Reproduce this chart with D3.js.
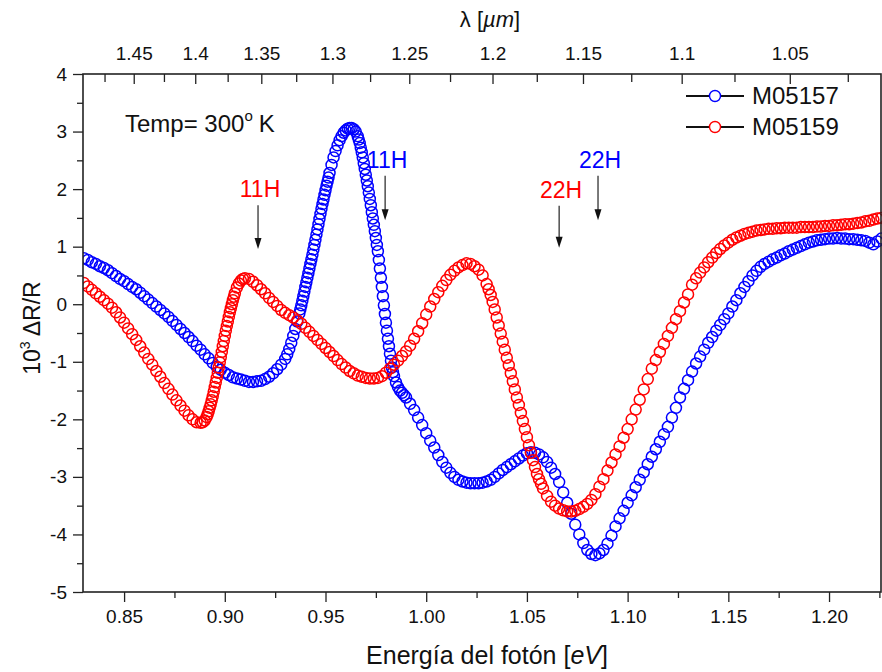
<!DOCTYPE html>
<html><head><meta charset="utf-8">
<script src="https://cdn.jsdelivr.net/npm/d3@7"></script>
<style>body{margin:0;background:#fff} svg{display:block;font-family:"Liberation Sans",Arial,sans-serif}</style>
</head><body><svg id="c" width="882" height="672"></svg>
<script>
// ---------- data ----------
const energyDomain = [0.8296, 1.2258];
const yDomain = [4, -5];
const xTicks = [0.85, 0.90, 0.95, 1.00, 1.05, 1.10, 1.15, 1.20];
const xMinorTicks = [0.875, 0.925, 0.975, 1.025, 1.075, 1.125, 1.175, 1.225];
const yTicks = [4, 3, 2, 1, 0, -1, -2, -3, -4, -5];
const yMinorTicks = [3.5, 2.5, 1.5, 0.5, -0.5, -1.5, -2.5, -3.5, -4.5];
const lambdaTicks = [1.475, 1.45, 1.425, 1.4, 1.375, 1.35, 1.325, 1.3, 1.275, 1.25, 1.225, 1.2, 1.175, 1.15, 1.125, 1.1, 1.075, 1.05, 1.025];
const lambdaLabels = [1.45, 1.4, 1.35, 1.3, 1.25, 1.2, 1.15, 1.1, 1.05];
const hc = 1.2398; // eV·µm
const seriesNames = ["M05157", "M05159"];
const seriesColors = ["#0000ff", "#ff0000"];

// M05157 (blue): [energy eV, 10^3 dR/R]
const m05157 = [
[0.830,0.80],[0.832,0.77],[0.834,0.73],[0.836,0.70],[0.838,0.66],[0.840,0.63],[0.842,0.59],[0.844,0.54],[0.846,0.49],[0.848,0.44],
[0.850,0.40],[0.852,0.35],[0.854,0.30],[0.856,0.26],[0.858,0.20],[0.860,0.14],[0.862,0.08],[0.864,0.02],[0.866,-0.04],[0.868,-0.10],
[0.870,-0.16],[0.872,-0.22],[0.874,-0.29],[0.876,-0.36],[0.878,-0.43],[0.880,-0.50],[0.882,-0.57],[0.884,-0.64],[0.886,-0.72],[0.888,-0.79],
[0.890,-0.87],[0.892,-0.94],[0.894,-1.02],[0.896,-1.09],[0.898,-1.14],[0.900,-1.19],[0.902,-1.23],[0.904,-1.27],[0.906,-1.29],[0.908,-1.31],
[0.910,-1.33],[0.912,-1.35],[0.914,-1.35],[0.916,-1.34],[0.918,-1.33],[0.920,-1.30],[0.922,-1.26],[0.924,-1.20],[0.926,-1.13],[0.928,-1.05],
[0.930,-0.95],[0.931,-0.87],[0.932,-0.78],[0.933,-0.67],[0.934,-0.55],[0.935,-0.43],[0.936,-0.30],[0.937,-0.16],[0.938,-0.02],[0.939,0.14],
[0.940,0.30],[0.941,0.46],[0.942,0.62],[0.943,0.78],[0.944,0.95],[0.945,1.12],[0.946,1.30],[0.947,1.48],[0.948,1.66],[0.949,1.82],
[0.950,1.98],[0.951,2.13],[0.952,2.28],[0.953,2.42],[0.954,2.55],[0.955,2.66],[0.956,2.76],[0.957,2.85],[0.958,2.92],[0.959,2.98],
[0.960,3.02],[0.961,3.05],[0.962,3.06],[0.963,3.06],[0.964,3.04],[0.965,3.00],[0.966,2.92],[0.967,2.80],[0.968,2.64],[0.969,2.45],
[0.970,2.25],[0.971,2.05],[0.972,1.83],[0.973,1.60],[0.974,1.38],[0.975,1.15],[0.976,0.92],[0.977,0.62],[0.978,0.30],[0.979,-0.02],
[0.980,-0.32],[0.981,-0.60],[0.982,-0.86],[0.983,-1.10],[0.984,-1.25],[0.985,-1.36],[0.986,-1.44],[0.987,-1.50],[0.988,-1.54],[0.989,-1.58],
[0.990,-1.62],[0.992,-1.73],[0.994,-1.84],[0.996,-1.97],[0.998,-2.10],[1.000,-2.24],[1.002,-2.37],[1.004,-2.49],[1.006,-2.62],[1.008,-2.74],
[1.010,-2.84],[1.012,-2.93],[1.014,-3.00],[1.016,-3.05],[1.018,-3.08],[1.020,-3.10],[1.022,-3.11],[1.024,-3.11],[1.026,-3.11],[1.028,-3.10],
[1.030,-3.08],[1.032,-3.05],[1.034,-3.00],[1.036,-2.94],[1.038,-2.88],[1.040,-2.83],[1.042,-2.78],[1.044,-2.73],[1.046,-2.68],[1.048,-2.63],
[1.050,-2.59],[1.052,-2.57],[1.054,-2.58],[1.056,-2.61],[1.058,-2.66],[1.060,-2.74],[1.062,-2.84],[1.064,-2.95],[1.066,-3.09],
[1.068,-3.27],[1.070,-3.45],[1.072,-3.64],[1.074,-3.83],[1.076,-4.00],[1.078,-4.15],[1.080,-4.27],[1.082,-4.34],[1.084,-4.36],[1.086,-4.33],
[1.088,-4.27],[1.090,-4.16],[1.092,-4.02],[1.094,-3.86],[1.096,-3.72],[1.098,-3.59],[1.100,-3.45],[1.102,-3.32],[1.104,-3.18],[1.106,-3.05],
[1.108,-2.92],[1.110,-2.78],[1.112,-2.65],[1.114,-2.52],[1.116,-2.39],[1.118,-2.26],[1.120,-2.13],[1.122,-1.97],[1.124,-1.80],[1.126,-1.62],
[1.128,-1.47],[1.130,-1.32],[1.132,-1.17],[1.134,-1.03],[1.136,-0.91],[1.138,-0.79],[1.140,-0.67],[1.142,-0.57],[1.144,-0.46],[1.146,-0.36],
[1.148,-0.26],[1.150,-0.16],[1.152,-0.04],[1.154,0.07],[1.156,0.19],[1.158,0.30],[1.160,0.40],[1.162,0.50],[1.164,0.58],[1.166,0.65],
[1.168,0.70],[1.170,0.74],[1.172,0.78],[1.174,0.81],[1.176,0.85],[1.178,0.88],[1.180,0.92],[1.182,0.95],[1.184,0.98],[1.186,1.01],
[1.188,1.04],[1.190,1.07],[1.192,1.09],[1.194,1.11],[1.196,1.12],[1.198,1.13],[1.200,1.14],[1.202,1.14],[1.204,1.15],[1.206,1.14],
[1.208,1.14],[1.210,1.13],[1.212,1.13],[1.214,1.12],[1.216,1.11],[1.218,1.10],[1.220,1.07],[1.222,1.04],[1.224,1.09],[1.226,1.14]
];
// extra readings on the steep flanks of M05157
const m05157Steep = [
[0.9375,-0.09],[0.9385,0.06],[0.9395,0.22],[0.9405,0.38],[0.9415,0.54],[0.9425,0.70],[0.9435,0.86],[0.9445,1.03],[0.9455,1.21],[0.9465,1.39],
[0.9475,1.57],[0.9485,1.74],[0.9495,1.90],[0.9505,2.06],[0.9515,2.20],
[0.9665,2.86],[0.9675,2.72],[0.9685,2.55],[0.9695,2.35],[0.9705,2.15],[0.9715,1.94],[0.9725,1.72],[0.9735,1.49],[0.9745,1.27],[0.9755,1.03],
[0.9765,0.77],[0.9775,0.46],[0.9785,0.14],[0.9795,-0.17],[0.9805,-0.46],[0.9815,-0.73],[0.9825,-0.98],[0.9835,-1.18]
];

// M05159 (red)
const m05159 = [
[0.830,0.37],[0.832,0.31],[0.834,0.25],[0.836,0.19],[0.838,0.13],[0.840,0.07],[0.842,0.01],[0.844,-0.06],[0.846,-0.14],[0.848,-0.23],
[0.850,-0.32],[0.852,-0.42],[0.854,-0.52],[0.856,-0.62],[0.858,-0.73],[0.860,-0.84],[0.862,-0.95],[0.864,-1.05],[0.866,-1.16],[0.868,-1.26],
[0.870,-1.37],[0.872,-1.47],[0.874,-1.57],[0.876,-1.67],[0.878,-1.76],[0.880,-1.85],[0.882,-1.93],[0.884,-2.00],[0.886,-2.05],[0.888,-2.06],
[0.889,-2.05],[0.890,-2.02],[0.891,-1.96],[0.892,-1.86],[0.893,-1.74],[0.894,-1.60],[0.895,-1.44],[0.896,-1.28],[0.897,-1.10],[0.898,-0.92],
[0.899,-0.73],[0.900,-0.55],[0.901,-0.38],[0.902,-0.22],[0.903,-0.07],[0.904,0.07],[0.905,0.19],[0.906,0.29],[0.907,0.36],[0.908,0.41],
[0.909,0.44],[0.910,0.45],[0.912,0.44],[0.914,0.39],[0.916,0.33],[0.918,0.26],[0.920,0.19],[0.922,0.11],[0.924,0.04],[0.926,-0.03],
[0.928,-0.10],[0.930,-0.15],[0.932,-0.19],[0.934,-0.23],[0.936,-0.28],[0.938,-0.34],[0.940,-0.41],[0.942,-0.48],[0.944,-0.55],[0.946,-0.62],
[0.948,-0.69],[0.950,-0.76],[0.952,-0.83],[0.954,-0.90],[0.956,-0.97],[0.958,-1.04],[0.960,-1.10],[0.962,-1.16],[0.964,-1.20],[0.966,-1.24],
[0.968,-1.26],[0.970,-1.28],[0.972,-1.29],[0.974,-1.29],[0.976,-1.28],[0.978,-1.25],[0.980,-1.19],[0.982,-1.12],[0.984,-1.05],[0.986,-0.98],
[0.988,-0.90],[0.990,-0.82],[0.992,-0.72],[0.994,-0.60],[0.996,-0.47],[0.998,-0.33],[1.000,-0.18],[1.002,-0.04],[1.004,0.09],[1.006,0.21],
[1.008,0.32],[1.010,0.42],[1.012,0.51],[1.014,0.58],[1.016,0.64],[1.018,0.68],[1.020,0.71],[1.022,0.70],[1.024,0.66],[1.026,0.60],
[1.028,0.50],[1.030,0.35],[1.031,0.26],[1.032,0.16],[1.033,0.04],[1.034,-0.09],[1.035,-0.23],[1.036,-0.37],[1.037,-0.51],[1.038,-0.65],
[1.039,-0.79],[1.040,-0.93],[1.041,-1.06],[1.042,-1.20],[1.043,-1.34],[1.044,-1.48],[1.045,-1.62],[1.046,-1.75],[1.047,-1.89],[1.048,-2.03],
[1.049,-2.17],[1.050,-2.31],[1.051,-2.45],[1.052,-2.58],[1.053,-2.71],[1.054,-2.83],[1.055,-2.95],[1.056,-3.04],[1.057,-3.12],[1.058,-3.20],
[1.060,-3.33],[1.062,-3.43],[1.064,-3.50],[1.066,-3.55],[1.068,-3.58],[1.070,-3.60],[1.072,-3.60],[1.074,-3.59],[1.076,-3.56],[1.078,-3.52],
[1.080,-3.47],[1.082,-3.40],[1.084,-3.30],[1.086,-3.17],[1.088,-3.04],[1.090,-2.89],[1.092,-2.75],[1.094,-2.61],[1.096,-2.47],[1.098,-2.32],
[1.100,-2.17],[1.102,-2.00],[1.104,-1.83],[1.106,-1.66],[1.108,-1.48],[1.110,-1.30],[1.112,-1.12],[1.114,-0.97],[1.116,-0.83],[1.118,-0.69],
[1.120,-0.55],[1.122,-0.41],[1.124,-0.26],[1.126,-0.12],[1.128,0.03],[1.130,0.17],[1.132,0.34],[1.134,0.45],[1.136,0.55],[1.138,0.64],
[1.140,0.73],[1.142,0.81],[1.144,0.89],[1.146,0.96],[1.148,1.02],[1.150,1.07],[1.152,1.12],[1.154,1.16],[1.156,1.19],[1.158,1.22],
[1.160,1.24],[1.162,1.26],[1.164,1.28],[1.166,1.29],[1.168,1.30],[1.170,1.31],[1.172,1.31],[1.174,1.32],[1.176,1.32],[1.178,1.33],
[1.180,1.33],[1.182,1.33],[1.184,1.33],[1.186,1.34],[1.188,1.34],[1.190,1.34],[1.192,1.34],[1.194,1.35],[1.196,1.35],[1.198,1.36],
[1.200,1.36],[1.202,1.37],[1.204,1.37],[1.206,1.38],[1.208,1.39],[1.210,1.39],[1.212,1.40],[1.214,1.41],[1.216,1.42],[1.218,1.44],
[1.220,1.45],[1.222,1.47],[1.224,1.49],[1.226,1.50]
];
const m05159Steep = [
[0.8915,-1.91],[0.8925,-1.80],[0.8935,-1.67],[0.8945,-1.52],[0.8955,-1.36],[0.8965,-1.19],[0.8975,-1.01],[0.8985,-0.83],[0.8995,-0.64],
[0.9005,-0.46],[0.9015,-0.30],[0.9025,-0.14],[0.9035,0.00],[0.9045,0.13]
];

// transition markers: label, colour, energy of arrow, text value, arrow start, arrow tip
const markLabels = ["11H", "11H", "22H", "22H"];
const markColors = ["#ff0000", "#0000ff", "#ff0000", "#0000ff"];
const markEnergy = [0.9165, 0.9796, 1.0660, 1.0853];
const markTextY = [1.86, 2.37, 1.85, 2.37];
const markFrom = [1.72, 2.23, 1.71, 2.23];
const markTo = [0.96, 1.46, 0.98, 1.46];

// ---------- drawing ----------
const svg = d3.select("#c");
const x = d3.scaleLinear().domain(energyDomain).range([83, 881]);
const y = d3.scaleLinear().domain(yDomain).range([74, 592]);
const L = 83, R = 881, T = 74, B = 592;

// series
const byE = (a, b) => a[0] - b[0];
const data = [m05157.concat(m05157Steep).sort(byE), m05159.concat(m05159Steep).sort(byE)];
svg.append("clipPath").attr("id", "pc").append("rect")
  .attr("x", L).attr("y", T - 10).attr("width", R - L + 2).attr("height", B - T + 10);
data.forEach((d, i) => {
  svg.append("g").attr("clip-path", "url(#pc)")
    .selectAll("circle").data(d).join("circle")
    .attr("cx", p => x(p[0])).attr("cy", p => y(p[1])).attr("r", 5.5)
    .attr("fill", "none").attr("stroke", seriesColors[i]).attr("stroke-width", 1.5);
});

// axes
const axColor = "#222";
const bottom = svg.append("g").attr("transform", `translate(0,${B})`)
  .call(d3.axisBottom(x).tickValues(xTicks).tickFormat(d3.format(".2f")).tickSize(10).tickPadding(8));
const bottomMinor = svg.append("g").attr("transform", `translate(0,${B})`)
  .call(d3.axisBottom(x).tickValues(xMinorTicks.filter(v => v <= energyDomain[1])).tickFormat("").tickSize(6));
const left = svg.append("g").attr("transform", `translate(${L},0)`)
  .call(d3.axisLeft(y).tickValues(yTicks).tickFormat(d => String(d)).tickSize(10).tickPadding(6));
const leftMinor = svg.append("g").attr("transform", `translate(${L},0)`)
  .call(d3.axisLeft(y).tickValues(yMinorTicks).tickFormat("").tickSize(6));
const topAx = svg.append("g").attr("transform", `translate(0,${T})`);
topAx.selectAll("line").data(lambdaTicks.filter(l => hc / l >= energyDomain[0] && hc / l <= energyDomain[1]))
  .join("line").attr("x1", l => x(hc / l)).attr("x2", l => x(hc / l))
  .attr("y1", 0).attr("y2", l => lambdaLabels.includes(l) ? 10 : 8)
  .attr("stroke", axColor).attr("stroke-width", 1.3);
topAx.selectAll("text").data(lambdaLabels).join("text")
  .attr("x", l => x(hc / l)).attr("y", -14).attr("text-anchor", "middle")
  .attr("font-size", 19).attr("fill", "#111").text(l => String(l));

[bottom, bottomMinor, left, leftMinor].forEach(g => {
  g.select(".domain").remove();
  g.selectAll(".tick line").attr("stroke", axColor).attr("stroke-width", 1.3);
  g.selectAll(".tick text").attr("font-size", 19).attr("fill", "#111").attr("font-family", "Liberation Sans, Arial, sans-serif");
});
// frame
svg.append("rect").attr("x", L).attr("y", T).attr("width", R - L).attr("height", B - T)
  .attr("fill", "none").attr("stroke", axColor).attr("stroke-width", 1.6);

// axis titles
svg.append("text").attr("x", 487).attr("y", 664).attr("text-anchor", "middle").attr("font-size", 25).attr("fill", "#111")
  .html('Energía del fotón [<tspan font-style="italic">eV</tspan>]');
svg.append("text").attr("x", 490).attr("y", 27).attr("text-anchor", "middle").attr("font-size", 22).attr("fill", "#111")
  .html('λ [<tspan font-style="italic">µm</tspan>]');
svg.append("text").attr("transform", "translate(40,328) rotate(-90)").attr("text-anchor", "middle").attr("font-size", 23).attr("fill", "#111")
  .html('10<tspan font-size="14" dy="-10">3</tspan><tspan dy="10"> ΔR/R</tspan>');

// temperature note
svg.append("text").attr("x", 125).attr("y", 132).attr("font-size", 24).attr("fill", "#111")
  .html('Temp= 300<tspan font-size="15" dy="-11">o</tspan><tspan dy="11" dx="6">K</tspan>');

// legend
seriesNames.forEach((n, i) => {
  const cy = 96 + i * 31;
  svg.append("line").attr("x1", 686).attr("x2", 744).attr("y1", cy).attr("y2", cy).attr("stroke", "#111").attr("stroke-width", 2);
  svg.append("circle").attr("cx", 715).attr("cy", cy).attr("r", 5.5).attr("fill", "#fff").attr("stroke", seriesColors[i]).attr("stroke-width", 1.4);
  svg.append("text").attr("x", 752).attr("y", cy + 8).attr("font-size", 24).attr("fill", "#111").text(n);
});

// transition markers
markLabels.forEach((lab, i) => {
  const ax = x(markEnergy[i]);
  svg.append("text").attr("x", ax + 2).attr("y", y(markTextY[i])).attr("text-anchor", "middle")
    .attr("font-size", 23).attr("fill", markColors[i]).text(lab);
  const y0 = y(markFrom[i]), y1 = y(markTo[i]);
  svg.append("line").attr("x1", ax).attr("x2", ax).attr("y1", y0).attr("y2", y1 - 8).attr("stroke", "#222").attr("stroke-width", 1.2);
  svg.append("path").attr("d", `M${ax - 3.5},${y1 - 11}L${ax + 3.5},${y1 - 11}L${ax},${y1}Z`).attr("fill", "#111");
});
</script></body></html>
